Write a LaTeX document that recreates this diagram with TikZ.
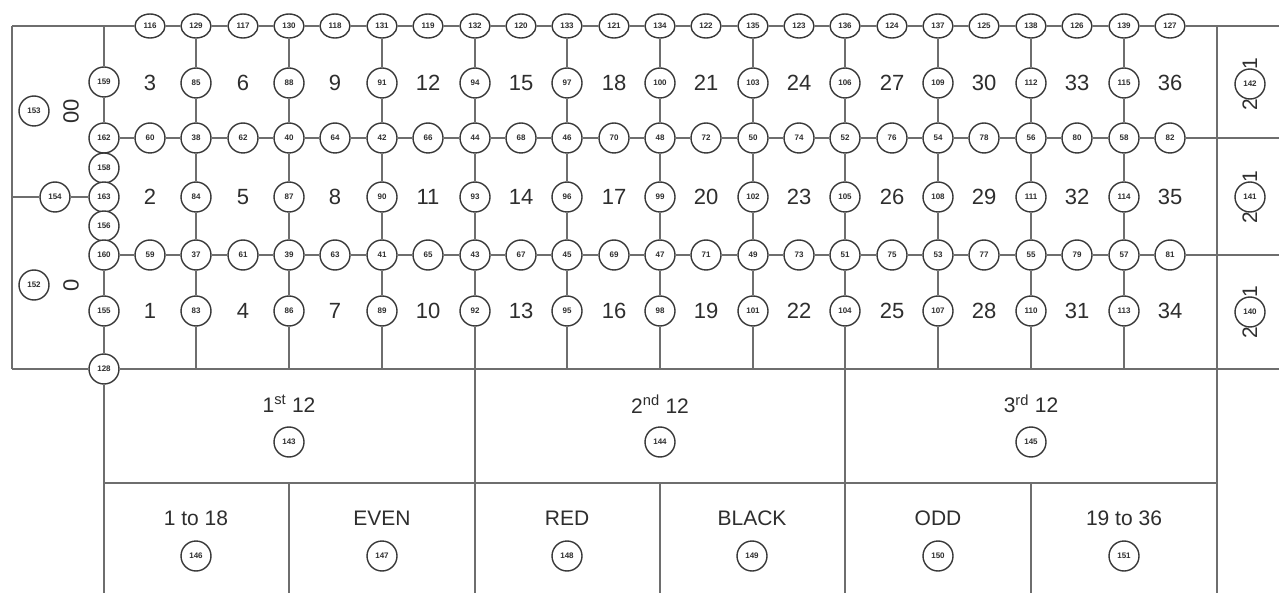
\documentclass[tikz,border=0pt]{standalone}
\usepackage{fontspec}
\setmainfont{Liberation Sans}
\usetikzlibrary{shapes.geometric}
\definecolor{ln}{HTML}{6E6E6E}
\definecolor{cb}{HTML}{383838}
\definecolor{tx}{HTML}{2E2E2E}
\tikzset{
  spot/.style={circle, draw=cb, line width=1.4pt, fill=white, minimum size=30pt, inner sep=0pt,
    font=\fontsize{8}{8}\selectfont\bfseries, text=tx},
  topspot/.style={spot, ellipse, minimum width=30pt, minimum height=24pt},
  num/.style={font=\fontsize{22}{22}\selectfont, text=tx, inner sep=0pt},
  lab/.style={font=\fontsize{21}{21}\selectfont, text=tx, inner sep=0pt},
  wire/.style={draw=ln, line width=1.5pt},
}
\begin{document}
\begin{tikzpicture}[x=1pt,y=-1pt]
\useasboundingbox (0,0) rectangle (1279,593);
\fill[white] (0,0) rectangle (1279,593);

% frame coordinates
\coordinate (TL) at (12,26);
\coordinate (BL) at (12,369);
\coordinate (TR) at (1279,26);
\coordinate (BR) at (1279,369);
\coordinate (L154) at (12,197);
\coordinate (LT) at (104,26);
\coordinate (LB) at (104,593);
\coordinate (R1) at (1279,138);
\coordinate (R2) at (1279,255);
\coordinate (RT) at (1217,26);
\coordinate (RB) at (1217,593);
\coordinate (H1) at (104,483);
\coordinate (H2) at (1217,483);

% grid nodes
\foreach \k in {0,...,22} {
  \pgfmathsetmacro\xx{round(150+46.36*\k)}
  \pgfmathtruncatemacro\isodd{mod(\k,2)}
  \ifnum\isodd=0
    \pgfmathtruncatemacro\lt{116+\k/2}
    \pgfmathtruncatemacro\la{3+3*\k/2}
    \pgfmathtruncatemacro\lm{60+\k}
    \pgfmathtruncatemacro\lb{2+3*\k/2}
    \pgfmathtruncatemacro\lp{59+\k}
    \pgfmathtruncatemacro\lc{1+3*\k/2}
    \node[topspot] (t\k) at (\xx,26) {\lt};
    \node[num] (a\k) at (\xx,83) {\la};
    \node[spot] (m\k) at (\xx,138) {\lm};
    \node[num] (b\k) at (\xx,197) {\lb};
    \node[spot] (p\k) at (\xx,255) {\lp};
    \node[num] (c\k) at (\xx,311) {\lc};
  \else
    \pgfmathtruncatemacro\lt{129+(\k-1)/2}
    \pgfmathtruncatemacro\la{85+3*(\k-1)/2}
    \pgfmathtruncatemacro\lm{37+\k}
    \pgfmathtruncatemacro\lb{84+3*(\k-1)/2}
    \pgfmathtruncatemacro\lp{36+\k}
    \pgfmathtruncatemacro\lc{83+3*(\k-1)/2}
    \node[topspot] (t\k) at (\xx,26) {\lt};
    \node[spot] (a\k) at (\xx,83) {\la};
    \node[spot] (m\k) at (\xx,138) {\lm};
    \node[spot] (b\k) at (\xx,197) {\lb};
    \node[spot] (p\k) at (\xx,255) {\lp};
    \node[spot] (c\k) at (\xx,311) {\lc};
    \coordinate (e\k) at (\xx,369);
    \coordinate (f\k) at (\xx,593);
  \fi
}

% left column
\node[spot] (s159) at (104,82) {159};
\node[spot] (s162) at (104,138) {162};
\node[spot] (s158) at (104,168) {158};
\node[spot] (s163) at (104,197) {163};
\node[spot] (s156) at (104,226) {156};
\node[spot] (s160) at (104,255) {160};
\node[spot] (s155) at (104,311) {155};
\node[spot] (s128) at (104,369) {128};
\node[spot] (s154) at (55,197) {154};
\node[spot] (s153) at (34,111) {153};
\node[spot] (s152) at (34,285) {152};
\node[num, rotate=90] (z00) at (71,111) {00};
\node[num, rotate=90] (z0) at (71,285) {0};

% right column
\node[lab, rotate=90] (q3) at (1250,84) {2 to 1};
\node[lab, rotate=90] (q2) at (1250,197) {2 to 1};
\node[lab, rotate=90] (q1) at (1250,312) {2 to 1};
\node[spot] (s142) at (1250,84) {142};
\node[spot] (s141) at (1250,197) {141};
\node[spot] (s140) at (1250,312) {140};

% dozens
\node[lab] (d1) at (289,404) {1\textsuperscript{st} 12};
\node[lab] (d2) at (660,404) {2\textsuperscript{nd} 12};
\node[lab] (d3) at (1031,404) {3\textsuperscript{rd} 12};
\node[spot] (s143) at (289,442) {143};
\node[spot] (s144) at (660,442) {144};
\node[spot] (s145) at (1031,442) {145};

% outside bets
\node[lab] (o1) at (196,518) {1 to 18};
\node[lab] (o2) at (382,518) {EVEN};
\node[lab] (o3) at (567,518) {RED};
\node[lab] (o4) at (752,518) {BLACK};
\node[lab] (o5) at (938,518) {ODD};
\node[lab] (o6) at (1124,518) {19 to 36};
\node[spot] (s146) at (196,556) {146};
\node[spot] (s147) at (382,556) {147};
\node[spot] (s148) at (567,556) {148};
\node[spot] (s149) at (752,556) {149};
\node[spot] (s150) at (938,556) {150};
\node[spot] (s151) at (1124,556) {151};
\coordinate (g1) at (289,483); \coordinate (g1b) at (289,593);
\coordinate (g2) at (660,483); \coordinate (g2b) at (660,593);
\coordinate (g3) at (1031,483); \coordinate (g3b) at (1031,593);

% wires
\draw[wire] (TL) -- (t0);
\foreach \k in {0,...,21} {
  \pgfmathtruncatemacro\kn{\k+1}
  \draw[wire] (t\k) -- (t\kn);
  \draw[wire] (m\k) -- (m\kn);
  \draw[wire] (p\k) -- (p\kn);
}
\draw[wire] (t22) -- (TR);
\draw[wire] (s162) -- (m0);
\draw[wire] (m22) -- (R1);
\draw[wire] (s160) -- (p0);
\draw[wire] (p22) -- (R2);
\foreach \k in {1,3,...,21} {
  \draw[wire] (t\k) -- (a\k);
  \draw[wire] (a\k) -- (m\k);
  \draw[wire] (m\k) -- (b\k);
  \draw[wire] (b\k) -- (p\k);
  \draw[wire] (p\k) -- (c\k);
  \draw[wire] (c\k) -- (e\k);
}
\draw[wire] (e7) -- (f7);
\draw[wire] (e15) -- (f15);
\draw[wire] (TL) -- (BL);
\draw[wire] (BL) -- (s128);
\draw[wire] (s128) -- (BR);
\draw[wire] (L154) -- (s154);
\draw[wire] (s154) -- (s163);
\draw[wire] (LT) -- (s159);
\draw[wire] (s159) -- (s162);
\draw[wire] (s160) -- (s155);
\draw[wire] (s155) -- (s128);
\draw[wire] (s128) -- (LB);
\draw[wire] (RT) -- (RB);
\draw[wire] (H1) -- (H2);
\draw[wire] (g1) -- (g1b);
\draw[wire] (g2) -- (g2b);
\draw[wire] (g3) -- (g3b);
\end{tikzpicture}
\end{document}
